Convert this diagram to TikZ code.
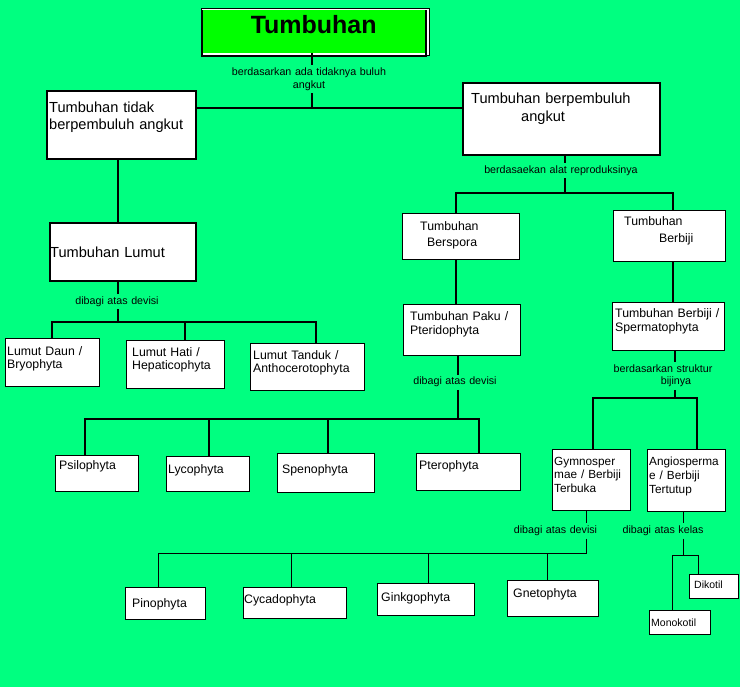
\documentclass[tikz,border=0pt]{standalone}
\usepackage{fontspec}
\setmainfont{Liberation Sans}
\usepackage{tikz}
\definecolor{mint green}{RGB}{0,255,128}
\definecolor{bright green}{RGB}{0,255,0}

\begin{document}
\begin{tikzpicture}[x = 1pt, y = -1pt,
		kotak/.style 2 args = {draw, fill = white, line width = 1.3pt, anchor = north west, inner sep = 0pt, minimum width = #1pt, minimum height = #2pt},
		teks/.style = {anchor = base west, inner sep = 0pt, align = left, text width = 160pt},
		besar/.style = {teks, font = \fontsize{14.6}{17.5}\selectfont},
		sedang/.style = {teks, font = \fontsize{12.3}{14}\selectfont},
		kecil/.style = {teks, font = \fontsize{10.5}{13}\selectfont},
		ket/.style = {anchor = base, inner sep = 2.5pt, align = center, text width = 160pt, font = \fontsize{10.7}{12.7}\selectfont},
		garis/.style = {line width = 2.5pt},
		garis tipis/.style = {line width = 1pt}]
			% background
			\useasboundingbox[fill = mint green] (0, 0) rectangle (740, 687);
			% title
			\draw[line width = 0.8pt, fill = white] (201, 8.5) rectangle (429.5, 55.3);
			\node[fill = bright green, anchor = north west, inner sep = 0pt, minimum width = 224pt, minimum height = 42.5pt, text depth = 14.7pt, font = \bfseries\fontsize{25}{30}\selectfont] (tumbuhan) at (201.5, 10) {Tumbuhan};
			\draw[line width = 2pt] (tumbuhan.north west) -- ++(0, 46.3) -| (tumbuhan.north east);
			% first level
			\node[kotak = {149}{68}, line width = 2pt] (tidak) at (46, 90) {};
			\node[besar] (tidak-t) at ([shift = {(3, 22.5)}]tidak.north west) {Tumbuhan tidak\\berpembuluh angkut};
			\node[kotak = {197}{72}, line width = 2pt] (berpembuluh) at (462, 82) {};
			\node[besar] (berpembuluh-t) at ([shift = {(9, 22)}]berpembuluh.north west) {Tumbuhan berpembuluh\\[0.5pt]\hspace*{50pt}angkut};
			% second level
			\node[kotak = {146}{58}, line width = 1.6pt] (lumut) at (49, 222) {};
			\node[besar] (lumut-t) at ([shift = {(1, 36)}]lumut.north west) {Tumbuhan Lumut};
			\node[kotak = {117}{46}] (berspora) at (402, 213) {};
			\node[sedang] (berspora-t) at ([shift = {(18, 17.5)}]berspora.north west) {Tumbuhan\\[2pt]\hspace*{7pt}Berspora};
			\node[kotak = {112}{51}] (berbiji) at (613, 210) {};
			\node[sedang] (berbiji-t) at ([shift = {(11, 16)}]berbiji.north west) {Tumbuhan\\[2.7pt]\hspace*{35pt}Berbiji};
			% mosses
			\node[kotak = {94}{48}] (daun) at (5, 338) {};
			\node[sedang] (daun-t) at ([shift = {(2, 17.5)}]daun.north west) {Lumut Daun /\\[-1pt]Bryophyta};
			\node[kotak = {98}{48}] (hati) at (126, 340) {};
			\node[sedang] (hati-t) at ([shift = {(6, 16.7)}]hati.north west) {Lumut Hati /\\[-0.7pt]Hepaticophyta};
			\node[kotak = {114}{47}] (tanduk) at (250, 343) {};
			\node[sedang] (tanduk-t) at ([shift = {(3, 16.3)}]tanduk.north west) {Lumut Tanduk /\\[-0.7pt]Anthocerotophyta};
			% ferns and seeds
			\node[kotak = {117}{51}] (paku) at (403, 304) {};
			\node[sedang] (paku-t) at ([shift = {(7, 16.7)}]paku.north west) {Tumbuhan Paku /\\Pteridophyta};
			\node[kotak = {112}{48}] (sperma) at (612, 302) {};
			\node[sedang] (sperma-t) at ([shift = {(3, 15.7)}]sperma.north west) {Tumbuhan Berbiji /\\Spermatophyta};
			\node[kotak = {83}{36}] (psilo) at (55, 455) {};
			\node[sedang] (psilo-t) at ([shift = {(4, 14.5)}]psilo.north west) {Psilophyta};
			\node[kotak = {83}{35}] (lyco) at (166, 456) {};
			\node[sedang] (lyco-t) at ([shift = {(2, 17)}]lyco.north west) {Lycophyta};
			\node[kotak = {97}{39}] (speno) at (277, 453) {};
			\node[sedang] (speno-t) at ([shift = {(5, 20)}]speno.north west) {Spenophyta};
			\node[kotak = {104}{37}] (ptero) at (416, 453) {};
			\node[sedang] (ptero-t) at ([shift = {(3, 16)}]ptero.north west) {Pterophyta};
			\node[kotak = {78}{61}] (gymno) at (552, 449) {};
			\node[sedang, font = \fontsize{11.8}{13.9}\selectfont] (gymno-t) at ([shift = {(2, 16)}]gymno.north west) {Gymnosper\\mae / Berbiji\\Terbuka};
			\node[kotak = {78}{62}] (angio) at (647, 449) {};
			\node[sedang, font = \fontsize{11.8}{13.9}\selectfont] (angio-t) at ([shift = {(2, 16.7)}]angio.north west) {Angiosperma\\e / Berbiji\\Tertutup};
			% bottom row
			\node[kotak = {80}{32}] (pino) at (125, 587) {};
			\node[sedang] (pino-t) at ([shift = {(7, 20)}]pino.north west) {Pinophyta};
			\node[kotak = {103}{31}] (cycado) at (243, 587) {};
			\node[sedang] (cycado-t) at ([shift = {(1, 16)}]cycado.north west) {Cycadophyta};
			\node[kotak = {97}{32}] (ginkgo) at (377, 583) {};
			\node[sedang] (ginkgo-t) at ([shift = {(4, 18)}]ginkgo.north west) {Ginkgophyta};
			\node[kotak = {91}{36}] (gneto) at (507, 580) {};
			\node[sedang] (gneto-t) at ([shift = {(6, 17)}]gneto.north west) {Gnetophyta};
			\node[kotak = {49}{24}] (diko) at (689, 574) {};
			\node[kecil] (diko-t) at ([shift = {(5, 14)}]diko.north west) {Dikotil};
			\node[kotak = {61}{24}] (mono) at (649, 610) {};
			\node[kecil] (mono-t) at ([shift = {(2, 16)}]mono.north west) {Monokotil};
			% labels
			\node[ket] (ket-buluh) at (309, 75.7) {berdasarkan ada tidaknya buluh\\angkut};
			\node[ket] (ket-repro) at (561, 173.3) {berdasaekan alat reproduksinya};
			\node[ket] (ket-lumut) at (117, 304.3) {dibagi atas devisi};
			\node[ket] (ket-paku) at (455, 385) {dibagi atas devisi};
			\node[ket] (ket-biji) at (663, 372.3) {berdasarkan struktur\\\hspace*{26pt}bijinya};
			\node[ket] (ket-gymno) at (555.5, 533.7) {dibagi atas devisi};
			\node[ket] (ket-angio) at (663, 533.7) {dibagi atas kelas};
			% junctions
			\coordinate (cA) at (312, 108);
			\coordinate (cB) at (565, 193);
			\coordinate (cB1) at (456, 193);
			\coordinate (cB2) at (673, 193);
			\coordinate (cC) at (118, 322);
			\coordinate (cC1) at (52, 322);
			\coordinate (cC2) at (185, 322);
			\coordinate (cC3) at (316, 322);
			\coordinate (cD) at (458, 419);
			\coordinate (cD1) at (85, 419);
			\coordinate (cD2) at (209, 419);
			\coordinate (cD3) at (328, 419);
			\coordinate (cD4) at (479, 419);
			\coordinate (cE) at (675, 398);
			\coordinate (cE1) at (593, 398);
			\coordinate (cE2) at (697, 398);
			\coordinate (cF) at (586, 553);
			\coordinate (cF1) at (158, 553);
			\coordinate (cF2) at (291, 553);
			\coordinate (cF3) at (428, 553);
			\coordinate (cF4) at (547, 553);
			\coordinate (cG) at (683, 555);
			\coordinate (cG1) at (672, 555);
			\coordinate (cG2) at (698, 555);
			% connectors
			\draw[garis]
				(cA |- tumbuhan.south) -- (cA |- ket-buluh.north)
				(cA |- ket-buluh.south) -- (cA)
				(tidak.east |- cA) -- (berpembuluh.west |- cA);
			\draw[garis]
				(cB |- berpembuluh.south) -- (cB |- ket-repro.north)
				(cB |- ket-repro.south) -- (cB)
				(cB1 |- berspora.north) -- (cB1) -- (cB2) -- (cB2 |- berbiji.north)
				(cB1 |- berspora.south) -- (cB1 |- paku.north)
				(cB2 |- berbiji.south) -- (cB2 |- sperma.north);
			\draw[garis]
				(cC |- tidak.south) -- (cC |- lumut.north)
				(cC |- lumut.south) -- (cC |- ket-lumut.north)
				(cC |- ket-lumut.south) -- (cC)
				(cC1 |- daun.north) -- (cC1) -- (cC3) -- (cC3 |- tanduk.north)
				(cC2) -- (cC2 |- hati.north);
			\draw[garis]
				(cD |- paku.south) -- (cD |- ket-paku.north)
				(cD |- ket-paku.south) -- (cD)
				(cD1 |- psilo.north) -- (cD1) -- (cD4) -- (cD4 |- ptero.north)
				(cD2) -- (cD2 |- lyco.north)
				(cD3) -- (cD3 |- speno.north);
			\draw[garis]
				(cE |- sperma.south) -- (cE |- ket-biji.north)
				(cE |- ket-biji.south) -- (cE)
				(cE1 |- gymno.north) -- (cE1) -- (cE2) -- (cE2 |- angio.north);
			\draw[garis tipis]
				(cF |- gymno.south) -- (cF |- ket-gymno.north)
				(cF |- ket-gymno.south) -- (cF) -- (cF1) -- (cF1 |- pino.north)
				(cF2) -- (cF2 |- cycado.north)
				(cF3) -- (cF3 |- ginkgo.north)
				(cF4) -- (cF4 |- gneto.north);
			\draw[garis tipis]
				(cG |- angio.south) -- (cG |- ket-angio.north)
				(cG |- ket-angio.south) -- (cG)
				(cG1 |- mono.north) -- (cG1) -- (cG2) -- (cG2 |- diko.north);
		\end{tikzpicture}
\end{document}
